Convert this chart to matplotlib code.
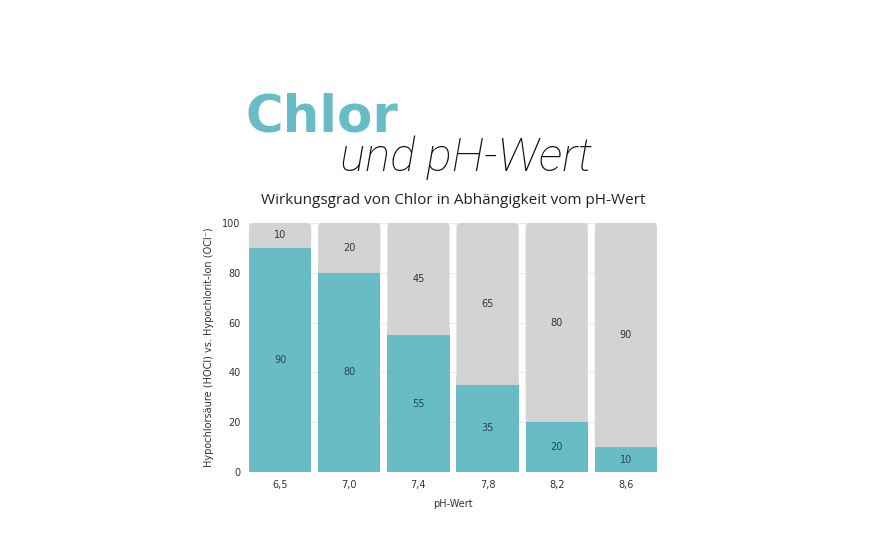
import matplotlib.pyplot as plt
from matplotlib.patches import FancyBboxPatch

ph = ['6,5', '7,0', '7,4', '7,8', '8,2', '8,6']
hocl = [90, 80, 55, 35, 20, 10]
ocl = [10, 20, 45, 65, 80, 90]

teal = '#68bcc6'
grey = '#d3d3d3'

fig = plt.figure(figsize=(8.8, 5.4), dpi=100)
ax = fig.add_axes([249 / 880, 68 / 540, 408 / 880, 249 / 540])

x = range(len(ph))
w = 0.9
for i in x:
    # grey part with rounded top, teal part square
    top = FancyBboxPatch((i - w / 2, hocl[i]), w, ocl[i],
                         boxstyle='round,pad=0,rounding_size=0.06',
                         mutation_aspect=100 / 5.9 * 408 / 249,
                         facecolor=grey, edgecolor='none', zorder=2)
    ax.add_patch(top)
    ax.bar(i, min(hocl[i] + 3, 100), width=w, color=grey, zorder=2)
    ax.bar(i, hocl[i], width=w, color=teal, zorder=3)
    ax.text(i, hocl[i] / 2, str(hocl[i]), ha='center', va='center',
            fontsize=7, color='#1f4a50', zorder=4)
    ax.text(i, hocl[i] + ocl[i] / 2, str(ocl[i]), ha='center', va='center',
            fontsize=7, color='#333333', zorder=4)

ax.set_xlim(-0.45, 5.45)
ax.set_ylim(0, 100)
ax.set_xticks(list(x))
ax.set_xticklabels(ph)
ax.set_yticks([0, 20, 40, 60, 80, 100])
ax.tick_params(length=0, labelsize=7, labelcolor='#333333', pad=6)
ax.yaxis.grid(True, color='#ececec', linewidth=0.8, zorder=0)
ax.set_axisbelow(True)
for s in ax.spines.values():
    s.set_visible(False)
ax.set_xlabel('pH-Wert', fontsize=7, color='#333333', labelpad=6)
ax.set_ylabel('Hypochlorsäure (HOCl) vs. Hypochlorit-Ion (OCl⁻)', fontsize=7,
              color='#333333', labelpad=6)

fig.text(245 / 880, 1 - 118 / 540, 'Chlor', fontsize=37, fontweight='heavy',
         family='DejaVu Sans', color=teal, ha='left', va='center')
fig.text(466 / 880, 1 - 158 / 540, 'und pH-Wert', fontsize=34, style='italic',
         family='Roboto', fontweight=100, color='#111111',
         ha='center', va='center')
fig.text(453 / 880, 1 - 200 / 540, 'Wirkungsgrad von Chlor in Abhängigkeit vom pH-Wert',
         fontsize=11, family='Open Sans', color='#222222',
         ha='center', va='center')

fig.savefig('out.png', dpi=100, facecolor='white')
